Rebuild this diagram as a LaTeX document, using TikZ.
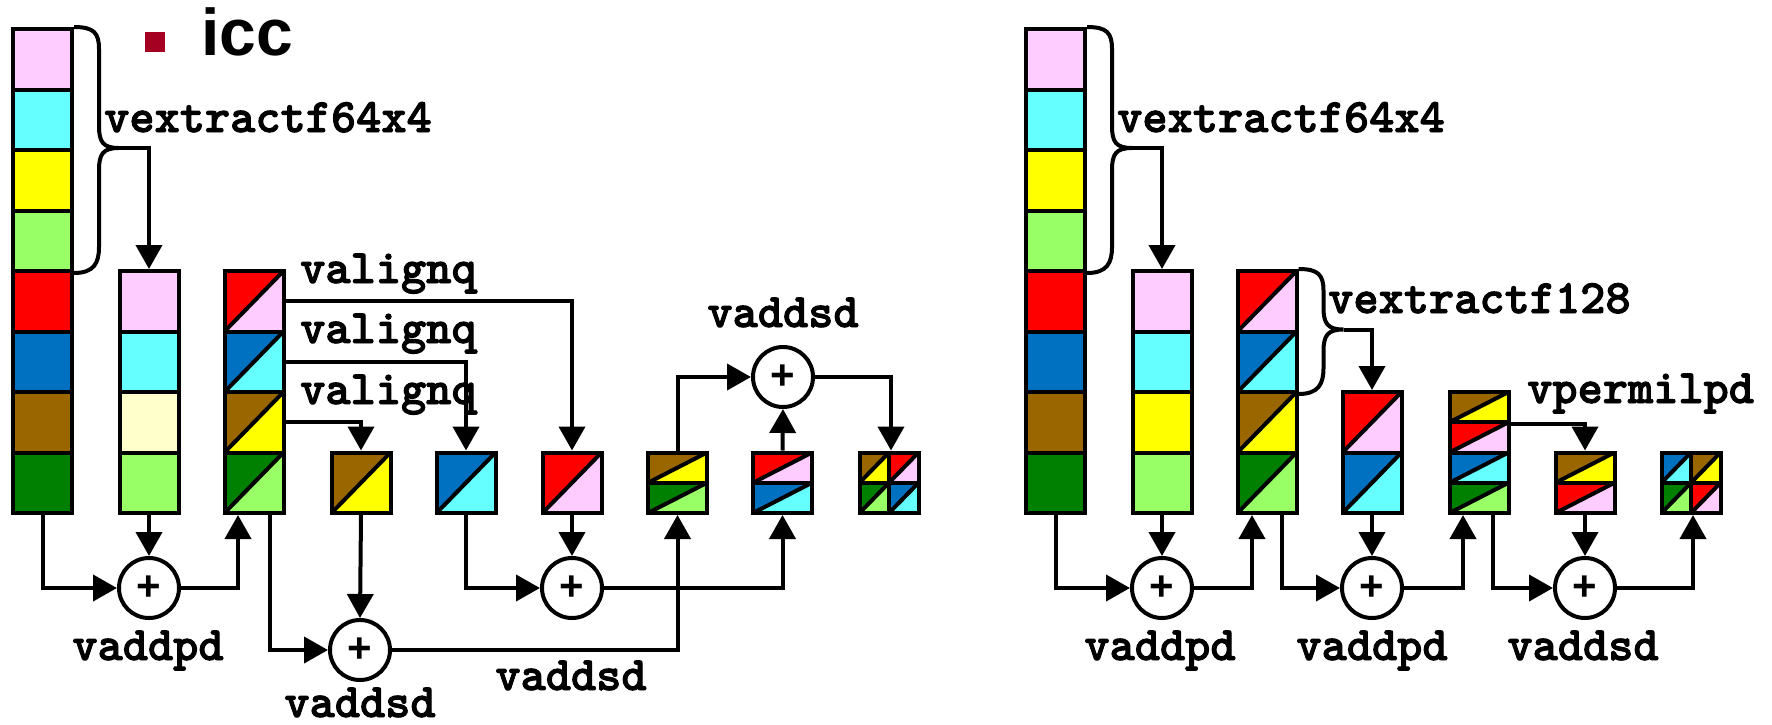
\documentclass[tikz,border=0pt]{standalone}
\usepackage{fontspec}
\setmainfont{Liberation Serif}
\newfontfamily\sansf{Liberation Sans}
\newfontfamily\monob{lmmonolt10-bold.otf}[FakeBold=2]
\usetikzlibrary{arrows.meta,calc}
\definecolor{cpink}{HTML}{FFCCFF}
\definecolor{ccyan}{HTML}{66FFFF}
\definecolor{cyel}{HTML}{FFFF00}
\definecolor{clgreen}{HTML}{99FF66}
\definecolor{cred}{HTML}{FF0000}
\definecolor{cblue}{HTML}{0070C0}
\definecolor{cbrown}{HTML}{996600}
\definecolor{cgreen}{HTML}{008000}
\definecolor{clyel}{HTML}{FFFFCC}
\definecolor{bulred}{HTML}{A50021}
\tikzset{
  cellbox/.style={draw, line width=4pt, inner sep=0pt, minimum width=59pt, minimum height=60.5pt, fill=#1},
  dcell/.style 2 args={draw, line width=4pt, inner sep=0pt, minimum width=59pt, minimum height=60.5pt,
    path picture={
      \fill[#1] (path picture bounding box.south west) -- (path picture bounding box.north west) -- (path picture bounding box.north east) -- cycle;
      \fill[#2] (path picture bounding box.south west) -- (path picture bounding box.south east) -- (path picture bounding box.north east) -- cycle;
      \draw[line width=4pt] (path picture bounding box.south west) -- (path picture bounding box.north east);}},
  halfrow/.style={minimum height=30.25pt},
  quadc/.style={minimum width=29.5pt, minimum height=30.25pt},
  addc/.style={circle, draw, line width=4pt, fill=white, minimum size=60pt, inner sep=0pt, font=\fontsize{42}{42}\selectfont\sansf\bfseries},
  conn/.style={line width=4pt, -{Triangle[length=24pt,width=26pt]}},
  brc/.style={line width=4pt},
  lab/.style={inner sep=0pt, font=\fontsize{48}{48}\selectfont\monob},
}
\begin{document}
\begin{tikzpicture}[x=1pt,y=-1pt]
\useasboundingbox (0,0) rectangle (1772,724);
% title
\node[fill=bulred, minimum size=20pt, inner sep=0pt] (bul) at (155,42) {};
\node[anchor=base west, inner sep=0pt, font=\fontsize{66}{66}\selectfont\sansf\bfseries] (title) at (201,55) {icc};

% ================= LEFT =================
\node[cellbox=cpink]   (a1) at (42.5,59.25) {};
\node[cellbox=ccyan]   (a2) at (42.5,119.75) {};
\node[cellbox=cyel]    (a3) at (42.5,180.25) {};
\node[cellbox=clgreen] (a4) at (42.5,240.75) {};
\node[cellbox=cred]    (a5) at (42.5,301.25) {};
\node[cellbox=cblue]   (a6) at (42.5,361.75) {};
\node[cellbox=cbrown]  (a7) at (42.5,422.25) {};
\node[cellbox=cgreen]  (a8) at (42.5,482.75) {};

\node[cellbox=cpink]   (b1) at (149,301.25) {};
\node[cellbox=ccyan]   (b2) at (149,361.75) {};
\node[cellbox=clyel]   (b3) at (149,422.25) {};
\node[cellbox=clgreen] (b4) at (149,482.75) {};

\node[dcell={cred}{cpink}]     (cc1) at (254,301.25) {};
\node[dcell={cblue}{ccyan}]    (cc2) at (254,361.75) {};
\node[dcell={cbrown}{cyel}]    (cc3) at (254,422.25) {};
\node[dcell={cgreen}{clgreen}] (cc4) at (254,482.75) {};

\node[dcell={cbrown}{cyel}]  (s1) at (361,482.75) {};
\node[dcell={cblue}{ccyan}]  (s2) at (466,482.75) {};
\node[dcell={cred}{cpink}]   (s3) at (572,482.75) {};

\node[dcell={cbrown}{cyel},halfrow]    (s4t) at (677.5,467.625) {};
\node[dcell={cgreen}{clgreen},halfrow] (s4b) at (677.5,497.875) {};
\node[dcell={cred}{cpink},halfrow]     (s5t) at (782.5,467.625) {};
\node[dcell={cblue}{ccyan},halfrow]    (s5b) at (782.5,497.875) {};

\node[dcell={cbrown}{cyel},quadc]    (s6tl) at (874.25,467.625) {};
\node[dcell={cred}{cpink},quadc]     (s6tr) at (903.75,467.625) {};
\node[dcell={cgreen}{clgreen},quadc] (s6bl) at (874.25,497.875) {};
\node[dcell={cblue}{ccyan},quadc]    (s6br) at (903.75,497.875) {};

\node[addc] (c1) at (149,588) {+};
\node[addc] (c2) at (360,650) {+};
\node[addc] (c3) at (572,588) {+};
\node[addc] (c4) at (783,377) {+};

% brace left
\draw[brc] (a1.north east) .. controls +(20,0) and +(0,-16) .. ++(25,22) -- ++(0,77)
  .. controls +(0,16) and +(-16,0) .. ++(20,22) coordinate (bt1)
  .. controls +(-16,0) and +(0,-16) .. ++(-20,22) -- ++(0,77)
  .. controls +(0,16) and +(20,0) .. (a4.south east);
\draw[conn] (bt1) -| (b1.north);

\draw[conn] (cc1.east) -| (s3.north);
\draw[conn] (cc2.east) -| (s2.north);
\draw[conn] (cc3.east) -| (s1.north);

\draw[conn] (a8.south) |- (c1.west);
\draw[conn] (b4.south) -- (c1.north);
\draw[conn] (c1.east) -| ([xshift=-16pt]cc4.south);
\draw[conn] ([xshift=16pt]cc4.south) |- (c2.west);
\draw[conn] (s1.south) -- (c2.north);
\draw[conn] (c2.east) -| (s4b.south);
\draw[conn] (s2.south) |- (c3.west);
\draw[conn] (s3.south) -- (c3.north);
\draw[conn] (c3.east) -| (s5b.south);
\draw[conn] (s4t.north) |- (c4.west);
\draw[conn] (s5t.north) -- (c4.south);
\draw[conn] (c4.east) -| (s6tl.north east);

\node[lab, anchor=base west] (lx1) at (104,132) {vextractf64x4};
\node[lab, anchor=base west] (lv1) at (300,283) {valignq};
\node[lab, anchor=base west] (lv2) at (300,343) {valignq};
\node[lab, anchor=base west] (lv3) at (300,404) {valignq};
\node[lab, anchor=base] (lt4) at (783,327) {vaddsd};
\node[lab, anchor=base] (lt1) at (148,660) {vaddpd};
\node[lab, anchor=base] (lt2) at (360,717) {vaddsd};
\node[lab, anchor=base] (lt3) at (571,690) {vaddsd};

% ================= RIGHT =================
\node[cellbox=cpink]   (p1) at (1055.5,59.25) {};
\node[cellbox=ccyan]   (p2) at (1055.5,119.75) {};
\node[cellbox=cyel]    (p3) at (1055.5,180.25) {};
\node[cellbox=clgreen] (p4) at (1055.5,240.75) {};
\node[cellbox=cred]    (p5) at (1055.5,301.25) {};
\node[cellbox=cblue]   (p6) at (1055.5,361.75) {};
\node[cellbox=cbrown]  (p7) at (1055.5,422.25) {};
\node[cellbox=cgreen]  (p8) at (1055.5,482.75) {};

\node[cellbox=cpink]   (q1) at (1162,301.25) {};
\node[cellbox=ccyan]   (q2) at (1162,361.75) {};
\node[cellbox=cyel]    (q3) at (1162,422.25) {};
\node[cellbox=clgreen] (q4) at (1162,482.75) {};

\node[dcell={cred}{cpink}]     (u1) at (1267,301.25) {};
\node[dcell={cblue}{ccyan}]    (u2) at (1267,361.75) {};
\node[dcell={cbrown}{cyel}]    (u3) at (1267,422.25) {};
\node[dcell={cgreen}{clgreen}] (u4) at (1267,482.75) {};

\node[dcell={cred}{cpink}]  (d1) at (1372,422.25) {};
\node[dcell={cblue}{ccyan}] (d2) at (1372,482.75) {};

\node[dcell={cbrown}{cyel},halfrow]    (e1) at (1479,407.125) {};
\node[dcell={cred}{cpink},halfrow]     (e2) at (1479,437.375) {};
\node[dcell={cblue}{ccyan},halfrow]    (e3) at (1479,467.625) {};
\node[dcell={cgreen}{clgreen},halfrow] (e4) at (1479,497.875) {};

\node[dcell={cbrown}{cyel},halfrow] (f1) at (1585,467.625) {};
\node[dcell={cred}{cpink},halfrow]  (f2) at (1585,497.875) {};

\node[dcell={cblue}{ccyan},quadc]    (gtl) at (1676.25,467.625) {};
\node[dcell={cbrown}{cyel},quadc]    (gtr) at (1705.75,467.625) {};
\node[dcell={cgreen}{clgreen},quadc] (gbl) at (1676.25,497.875) {};
\node[dcell={cred}{cpink},quadc]     (gbr) at (1705.75,497.875) {};

\node[addc] (r1) at (1162,588) {+};
\node[addc] (r2) at (1372,588) {+};
\node[addc] (r3) at (1585,588) {+};

\draw[brc] (p1.north east) .. controls +(20,0) and +(0,-16) .. ++(25,22) -- ++(0,77)
  .. controls +(0,16) and +(-16,0) .. ++(20,22) coordinate (bt2)
  .. controls +(-16,0) and +(0,-16) .. ++(-20,22) -- ++(0,77)
  .. controls +(0,16) and +(20,0) .. (p4.south east);
\draw[conn] (bt2) -| (q1.north);

\draw[brc] (u1.north east) .. controls +(20,0) and +(0,-16) .. ++(25,22) -- ++(0,16.5)
  .. controls +(0,16) and +(-16,0) .. ++(20,22) coordinate (bt3)
  .. controls +(-16,0) and +(0,-16) .. ++(-20,22) -- ++(0,16.5)
  .. controls +(0,16) and +(20,0) .. (u2.south east);
\draw[conn] (bt3) -| (d1.north);

\draw[conn] (e1.south east) -| (f1.north);

\draw[conn] (p8.south) |- (r1.west);
\draw[conn] (q4.south) -- (r1.north);
\draw[conn] (r1.east) -| ([xshift=-15pt]u4.south);
\draw[conn] ([xshift=15pt]u4.south) |- (r2.west);
\draw[conn] (d2.south) -- (r2.north);
\draw[conn] (r2.east) -| ([xshift=-16pt]e4.south);
\draw[conn] ([xshift=14pt]e4.south) |- (r3.west);
\draw[conn] (f2.south) -- (r3.north);
\draw[conn] (r3.east) -| (gbl.south east);

\node[lab, anchor=base west] (rx1) at (1117,132) {vextractf64x4};
\node[lab, anchor=base west] (rx2) at (1328,313) {vextractf128};
\node[lab, anchor=base west] (rx3) at (1527,403) {vpermilpd};
\node[lab, anchor=base] (rt1) at (1160,660) {vaddpd};
\node[lab, anchor=base] (rt2) at (1372,660) {vaddpd};
\node[lab, anchor=base] (rt3) at (1583,660) {vaddsd};
\end{tikzpicture}
\end{document}
